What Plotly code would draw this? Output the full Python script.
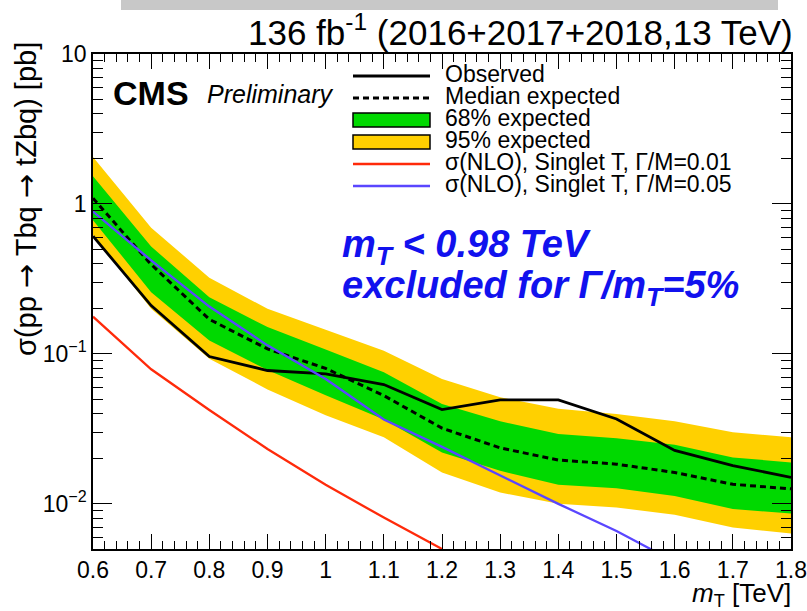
import plotly.graph_objects as go

# Mass points (TeV)
mass = [0.6, 0.7, 0.8, 0.9, 1.0, 1.1, 1.2, 1.3, 1.4, 1.5, 1.6, 1.7, 1.8]

# 95% CL upper limits on sigma(pp -> Tbq -> tZbq) [pb]
observed = [0.61, 0.21, 0.096, 0.0775, 0.0736, 0.0625, 0.0425, 0.0493, 0.0493, 0.0368, 0.0227, 0.018, 0.015]
expected = [1.09, 0.395, 0.170, 0.108, 0.080, 0.0527, 0.032, 0.0236, 0.0196, 0.0184, 0.0162, 0.0135, 0.0126]
exp68_up = [1.53, 0.52, 0.239, 0.151, 0.107, 0.0755, 0.0463, 0.0355, 0.0292, 0.0274, 0.0248, 0.0204, 0.0189]
exp68_dn = [0.78, 0.258, 0.123, 0.078, 0.053, 0.0365, 0.022, 0.0166, 0.0134, 0.0127, 0.0113, 0.00923, 0.00863]
exp95_up = [2.06, 0.695, 0.322, 0.20, 0.145, 0.105, 0.068, 0.0514, 0.043, 0.0398, 0.0355, 0.030, 0.0278]
exp95_dn = [0.62, 0.20, 0.093, 0.058, 0.039, 0.0278, 0.0162, 0.0119, 0.0100, 0.00946, 0.00846, 0.00695, 0.00634]

# Theory cross sections (NLO), singlet T
mass_w001 = [0.6, 0.7, 0.8, 0.9, 1.0, 1.1, 1.2]
xsec_w001 = [0.177, 0.079, 0.0423, 0.0232, 0.0134, 0.0081, 0.0050]
mass_w005 = [0.6, 0.7, 0.8, 0.9, 1.0, 1.1, 1.2, 1.3, 1.4, 1.5, 1.6]
xsec_w005 = [0.89, 0.42, 0.207, 0.114, 0.068, 0.0365, 0.024, 0.0154, 0.0100, 0.0066, 0.0041]

# Axis ticks
x_tickvals = [0.6, 0.7, 0.8, 0.9, 1.0, 1.1, 1.2, 1.3, 1.4, 1.5, 1.6, 1.7, 1.8]
x_ticktext = ["0.6", "0.7", "0.8", "0.9", "1", "1.1", "1.2", "1.3", "1.4", "1.5", "1.6", "1.7", "1.8"]
y_tickvals = [0.01, 0.1, 1, 10]
y_ticktext = ["10<sup>\u22122</sup>", "10<sup>\u22121</sup>", "1", "10"]
y_minorvals = [d * 10.0 ** e for e in range(-3, 1) for d in range(2, 10)]

# Legend entries
legend_labels = ["Observed", "Median expected", "68% expected", "95% expected",
                 "\u03c3(NLO), Singlet T, \u0393/M=0.01", "\u03c3(NLO), Singlet T, \u0393/M=0.05"]

YELLOW = "#ffd000"
GREEN = "#00d900"
RED = "#ff2a0a"
BLUE = "#5a46ff"
FONT = "Liberation Sans, Arial, sans-serif"
ARROW = '<span style="font-family:DejaVu Sans">\u2192</span>'

W, H = 807, 611
L, R, T, B = 93, 791, 54, 549


def px_x(p):
    return (p - L) / (R - L)


def px_y(p):
    return (B - p) / (B - T)


fig = go.Figure()

# 95% and 68% expected bands
fig.add_trace(go.Scatter(x=mass + mass[::-1], y=exp95_up + exp95_dn[::-1], fill="toself",
                         fillcolor=YELLOW, line=dict(width=0), mode="lines", hoverinfo="skip",
                         showlegend=False))
fig.add_trace(go.Scatter(x=mass + mass[::-1], y=exp68_up + exp68_dn[::-1], fill="toself",
                         fillcolor=GREEN, line=dict(width=0), mode="lines", hoverinfo="skip",
                         showlegend=False))
# Median expected
fig.add_trace(go.Scatter(x=mass, y=expected, mode="lines",
                         line=dict(color="black", width=3, dash="6px,4px"), showlegend=False))
# Observed
fig.add_trace(go.Scatter(x=mass, y=observed, mode="lines",
                         line=dict(color="black", width=2.8), showlegend=False))
# Theory curves
fig.add_trace(go.Scatter(x=mass_w001, y=xsec_w001, mode="lines",
                         line=dict(color=RED, width=2.3), showlegend=False))
fig.add_trace(go.Scatter(x=mass_w005, y=xsec_w005, mode="lines",
                         line=dict(color=BLUE, width=2.3), showlegend=False))

shapes = []
annotations = []

# Luminosity banner
shapes.append(dict(type="rect", xref="paper", yref="paper",
                   x0=px_x(121), x1=px_x(778), y0=px_y(10), y1=px_y(0),
                   fillcolor="#c8c8c8", line=dict(width=0), layer="above"))

# Manual legend
row0, dy = 76, 22
sx0, sx1 = px_x(353), px_x(430)
for i, label in enumerate(legend_labels):
    yc = row0 + i * dy
    if i == 0:
        shapes.append(dict(type="line", xref="paper", yref="paper", x0=sx0, x1=sx1,
                           y0=px_y(yc), y1=px_y(yc), line=dict(color="black", width=2.8)))
    elif i == 1:
        shapes.append(dict(type="line", xref="paper", yref="paper", x0=sx0, x1=sx1,
                           y0=px_y(yc), y1=px_y(yc), line=dict(color="black", width=3, dash="6px,4px")))
    elif i in (2, 3):
        shapes.append(dict(type="rect", xref="paper", yref="paper", x0=sx0, x1=sx1,
                           y0=px_y(yc + 7), y1=px_y(yc - 7),
                           fillcolor=GREEN if i == 2 else YELLOW, line=dict(color="black", width=1.5)))
    else:
        shapes.append(dict(type="line", xref="paper", yref="paper", x0=sx0, x1=sx1,
                           y0=px_y(yc), y1=px_y(yc), line=dict(color=RED if i == 4 else BLUE, width=2.3)))
    annotations.append(dict(xref="paper", yref="paper", x=px_x(443), y=px_y(yc - 2),
                            xanchor="left", yanchor="middle", showarrow=False, text=label,
                            font=dict(family=FONT, size=23, color="black")))

# Header and labels
annotations += [
    dict(xref="paper", yref="paper", x=px_x(795), y=px_y(30), xanchor="right", yanchor="middle",
         showarrow=False, text="136 fb<sup>-1</sup> (2016+2017+2018,13 TeV)",
         font=dict(family=FONT, size=35, color="black")),
    dict(xref="paper", yref="paper", x=px_x(111), y=px_y(93), xanchor="left", yanchor="middle",
         showarrow=False, text="<b>CMS</b>", font=dict(family=FONT, size=34, color="black")),
    dict(xref="paper", yref="paper", x=px_x(205), y=px_y(94), xanchor="left", yanchor="middle",
         showarrow=False, text="<i>Preliminary</i>", font=dict(family=FONT, size=25, color="black")),
    dict(xref="paper", yref="paper", x=px_x(340), y=px_y(247), xanchor="left", yanchor="middle",
         showarrow=False, text="<b><i>m<sub>T</sub> &lt; 0.98 TeV</i></b>",
         font=dict(family=FONT, size=38, color="#1111ee")),
    dict(xref="paper", yref="paper", x=px_x(340), y=px_y(288), xanchor="left", yanchor="middle",
         showarrow=False, text="<b><i>excluded for \u0393/m<sub>T</sub>=5%</i></b>",
         font=dict(family=FONT, size=38, color="#1111ee")),
    dict(xref="paper", yref="paper", x=px_x(793), y=px_y(594), xanchor="right", yanchor="middle",
         showarrow=False, text="<i>m</i><sub>T</sub> [TeV]",
         font=dict(family=FONT, size=26, color="black")),
    dict(xref="paper", yref="paper", x=px_x(26), y=px_y(40), xanchor="center", yanchor="top",
         showarrow=False, textangle=-90,
         text="\u03c3(pp " + ARROW + " Tbq " + ARROW + " tZbq) [pb]",
         font=dict(family=FONT, size=29, color="black")),
]

fig.update_layout(
    width=W, height=H,
    margin=dict(l=L, r=W - R, t=T, b=H - B, pad=0, autoexpand=False),
    paper_bgcolor="white", plot_bgcolor="white",
    showlegend=False,
    shapes=shapes, annotations=annotations,
    font=dict(family=FONT, color="black"),
)

fig.update_xaxes(
    range=[0.6, 1.8], tickmode="array", tickvals=x_tickvals, ticktext=x_ticktext,
    ticks="inside", ticklen=15, tickwidth=1.2, tickcolor="black",
    showline=True, linecolor="black", linewidth=1.5, mirror="allticks",
    showgrid=False, zeroline=False, automargin=False,
    tickfont=dict(family=FONT, size=23, color="black"),
    minor=dict(ticks="inside", ticklen=8, tickwidth=1.2, tickcolor="black",
               dtick=0.02, tick0=0.6, showgrid=False),
)
fig.update_yaxes(
    type="log", range=[-2.30103, 1], tickmode="array", tickvals=y_tickvals, ticktext=y_ticktext,
    ticks="inside", ticklen=19, tickwidth=1.2, tickcolor="black",
    showline=True, linecolor="black", linewidth=1.5, mirror="allticks",
    showgrid=False, zeroline=False, automargin=False,
    tickfont=dict(family=FONT, size=23, color="black"),
    minor=dict(ticks="inside", ticklen=10, tickwidth=1.2, tickcolor="black",
               tickmode="array", tickvals=y_minorvals, showgrid=False),
)

fig.write_html("out.html")
